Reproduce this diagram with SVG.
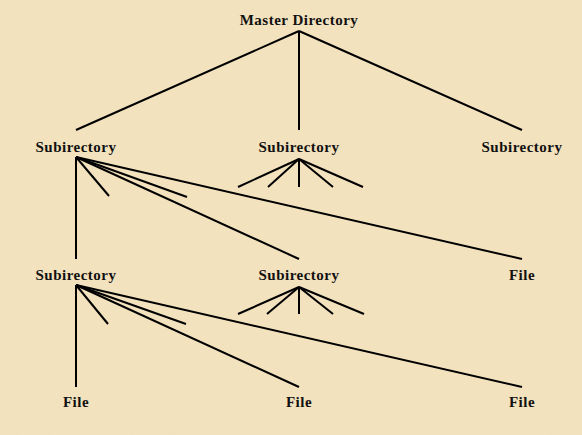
<svg xmlns="http://www.w3.org/2000/svg" width="582" height="435" viewBox="0 0 582 435">
<style>
.lbl{font-family:"Liberation Serif","Times New Roman",serif;font-weight:bold;font-size:15px;fill:#111;text-anchor:middle;letter-spacing:0.5px}
.c line{stroke:#000;stroke-width:2;stroke-linecap:butt}
</style>
<defs>
<filter id="tex" x="0" y="0" width="100%" height="100%">
<feTurbulence type="fractalNoise" baseFrequency="0.04" numOctaves="4" seed="7" result="n"/>
<feColorMatrix in="n" type="matrix" values="0 0 0 0 0.88  0 0 0 0 0.76  0 0 0 0 0.50  0 0 0 1.6 -0.6" result="c"/>
<feComposite in="c" in2="SourceGraphic" operator="in"/>
</filter>
</defs>
<rect width="582" height="435" fill="#F3E2BE"/>
<rect width="582" height="435" fill="#000" filter="url(#tex)" opacity="0.6"/>
<g id="connectors" class="c">
<line x1="299" y1="31" x2="76" y2="130"/>
<line x1="299" y1="31" x2="299" y2="130"/>
<line x1="299" y1="31" x2="522" y2="130"/>
<line x1="76" y1="157" x2="76" y2="259"/>
<line x1="76" y1="157" x2="109" y2="196"/>
<line x1="76" y1="157" x2="187" y2="197"/>
<line x1="76" y1="157" x2="299" y2="259"/>
<line x1="76" y1="157" x2="522" y2="259"/>
<line x1="299" y1="159" x2="238" y2="187"/>
<line x1="299" y1="159" x2="268" y2="187"/>
<line x1="299" y1="159" x2="299" y2="187"/>
<line x1="299" y1="159" x2="333" y2="187"/>
<line x1="299" y1="159" x2="363" y2="187"/>
<line x1="76" y1="285" x2="76" y2="387"/>
<line x1="76" y1="285" x2="108" y2="324"/>
<line x1="76" y1="285" x2="186" y2="324"/>
<line x1="76" y1="285" x2="299" y2="387"/>
<line x1="76" y1="285" x2="522" y2="387"/>
<line x1="299" y1="287" x2="238" y2="314"/>
<line x1="299" y1="287" x2="267" y2="314"/>
<line x1="299" y1="287" x2="299" y2="314"/>
<line x1="299" y1="287" x2="333" y2="314"/>
<line x1="299" y1="287" x2="364" y2="314"/>
</g>
<g id="master"><text class="lbl" x="299" y="25">Master Directory</text></g>
<g id="sub1"><text class="lbl" x="76" y="152">Subirectory</text></g>
<g id="sub2"><text class="lbl" x="299" y="152">Subirectory</text></g>
<g id="sub3"><text class="lbl" x="522" y="152">Subirectory</text></g>
<g id="sub4"><text class="lbl" x="76" y="280">Subirectory</text></g>
<g id="sub5"><text class="lbl" x="299" y="280">Subirectory</text></g>
<g id="file1"><text class="lbl" x="522" y="280">File</text></g>
<g id="file2"><text class="lbl" x="76" y="407">File</text></g>
<g id="file3"><text class="lbl" x="299" y="407">File</text></g>
<g id="file4"><text class="lbl" x="522" y="407">File</text></g>
</svg>
